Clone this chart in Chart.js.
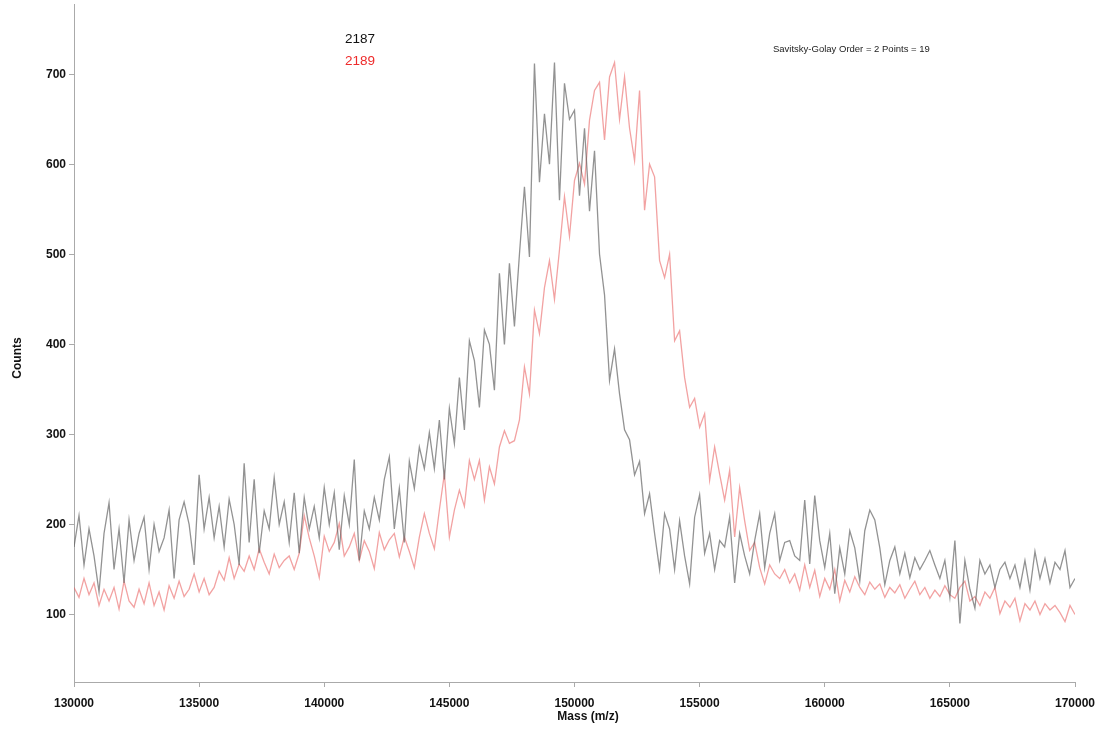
<!DOCTYPE html>
<html>
<head>
<meta charset="utf-8">
<script src="https://cdn.jsdelivr.net/npm/chart.js@4.4.1/dist/chart.umd.min.js"></script>
<style>
  html, body { margin: 0; padding: 0; background: #fff; }
  #wrap { width: 1104px; height: 730px; }
</style>
</head>
<body>
<div id="wrap"><canvas id="spectrum" width="1104" height="730"></canvas></div>
<script>
// mass axis: one reading every 200 m/z from 130000 to 170000
const MASS_START = 130000;
const MASS_STEP = 200;

const massTicks = [130000, 135000, 140000, 145000, 150000, 155000, 160000, 165000, 170000];
const countTicks = [100, 200, 300, 400, 500, 600, 700];

// smoothed counts, sample 2187
const counts2187 = [
  175, 210, 155, 195, 165, 125, 190, 224, 150, 195,
  135, 205, 160, 190, 208, 150, 200, 170, 185, 216,
  140, 205, 225, 200, 155, 255, 195, 230, 185, 220,
  175, 228, 200, 155, 268, 180, 250, 168, 215, 195,
  252, 200, 225, 180, 235, 168, 230, 195, 220, 185,
  241, 200, 235, 172, 232, 200, 272, 160, 215, 195,
  230, 205, 250, 275, 195, 240, 180, 270, 240, 286,
  262, 302, 262, 316, 250, 329, 290, 363, 305, 404,
  382, 330, 416, 400, 349, 479, 400, 490, 420, 500,
  575, 497, 712, 580, 656, 600, 713, 560, 690, 650,
  660, 565, 640, 548, 615, 500, 455, 360, 395, 345,
  305, 294, 255, 270, 212, 234, 190, 150, 212, 195,
  150, 204, 165, 134, 208, 233, 168, 190, 150, 182,
  175, 208, 135, 190, 165, 145, 182, 212, 152, 190,
  212, 160, 180, 182, 165, 160, 227, 156, 232, 182,
  152, 190, 123, 174, 145, 193, 174, 137, 193, 216,
  205, 174, 133, 160, 175, 145, 168, 141, 163, 150,
  160, 171, 155, 140, 160, 119, 182, 90, 160, 128,
  107, 160, 145, 155, 130, 150, 158, 140, 155, 130,
  160, 127, 170, 140, 162, 135, 158, 150, 171, 130,
  140
];

// smoothed counts, sample 2189
const counts2189 = [
  130, 119, 140, 122, 135, 110, 128, 115, 130, 106,
  137, 115, 108, 128, 112, 135, 110, 125, 105, 132,
  118, 137, 120, 128, 145, 125, 140, 122, 130, 148,
  138, 163, 140, 156, 148, 165, 150, 173, 158, 145,
  167, 152, 160, 165, 150, 168, 210, 185, 165, 141,
  187, 170, 180, 201, 165, 175, 190, 160, 182, 170,
  151, 191, 172, 183, 190, 164, 186, 170, 152, 186,
  212, 190, 173, 216, 256, 186, 216, 238, 220, 271,
  250, 271, 227, 264, 245, 286, 304, 290, 293, 316,
  375, 345, 438, 412, 463, 493, 450, 505, 564, 520,
  582, 601, 578, 649, 682, 691, 627, 697, 713, 650,
  697, 640, 604, 682, 549, 600, 586, 493, 474, 500,
  404, 415, 363, 330, 340, 308, 323, 249, 286, 256,
  227, 260, 186, 241, 204, 171, 180, 152, 134, 155,
  145, 140, 150, 135, 145, 127, 155, 130, 149, 120,
  140, 128, 150, 115, 138, 125, 142, 130, 122, 136,
  128, 134, 119, 130, 124, 133, 118, 128, 137, 122,
  130, 118, 127, 120, 132, 122, 118, 130, 137, 115,
  120, 110, 125, 118, 130, 101, 115, 108, 118, 93,
  112, 105, 115, 100, 112, 105, 110, 102, 92, 110,
  100
];

const toPoints = arr => arr.map((v, i) => ({ x: MASS_START + i * MASS_STEP, y: v }));

const FONT = "'Liberation Sans', Arial, Helvetica, sans-serif";

// axis titles, sample names in their line colour, and the smoothing note
const notes = {
  id: 'notes',
  afterDraw(chart) {
    const ctx = chart.ctx;
    ctx.save();
    ctx.textBaseline = 'middle';
    ctx.textAlign = 'center';
    ctx.fillStyle = '#111';
    ctx.font = 'bold 12px ' + FONT;
    ctx.fillText('Mass (m/z)', 588, 717);
    ctx.save();
    ctx.translate(18, 358);
    ctx.rotate(-Math.PI / 2);
    ctx.fillText('Counts', 0, 0);
    ctx.restore();

    ctx.textAlign = 'left';
    ctx.font = '13.5px ' + FONT;
    ctx.fillStyle = '#111';
    ctx.fillText(chart.data.datasets[0].label, 345, 39);
    ctx.fillStyle = '#ee2b2b';
    ctx.fillText(chart.data.datasets[1].label, 345, 61);
    ctx.font = '9.5px ' + FONT;
    ctx.fillStyle = '#222';
    ctx.fillText('Savitsky-Golay Order = 2 Points = 19', 773, 49);
    ctx.restore();
  }
};

new Chart(document.getElementById('spectrum'), {
  type: 'line',
  data: {
    datasets: [
      {
        label: '2187',
        data: toPoints(counts2187),
        borderColor: 'rgba(95,95,95,0.68)',
        borderWidth: 1.3,
        pointRadius: 0,
        tension: 0,
        fill: false
      },
      {
        label: '2189',
        data: toPoints(counts2189),
        borderColor: 'rgba(232,95,95,0.58)',
        borderWidth: 1.3,
        pointRadius: 0,
        tension: 0,
        fill: false
      }
    ]
  },
  options: {
    responsive: false,
    animation: false,
    layout: { padding: { top: 4, right: 29, left: 0, bottom: 0 } },
    plugins: {
      legend: { display: false },
      tooltip: { enabled: false }
    },
    scales: {
      x: {
        type: 'linear',
        min: 130000,
        max: 170000,
        afterBuildTicks: s => { s.ticks = massTicks.map(v => ({ value: v })); },
        afterFit: s => { s.height = 48; s.paddingLeft = 0; s.paddingRight = 0; },
        grid: { drawOnChartArea: false, drawTicks: true, tickLength: 5, color: '#aaa' },
        border: { display: true, color: '#aaa', width: 1 },
        ticks: {
          color: '#111',
          font: { family: FONT, size: 12, weight: 'bold' },
          padding: 9,
          maxRotation: 0,
          callback: v => String(v)
        }
      },
      y: {
        type: 'linear',
        min: 25,
        max: 778,
        afterBuildTicks: s => { s.ticks = countTicks.map(v => ({ value: v })); },
        afterFit: s => { s.width = 74; s.paddingTop = 0; s.paddingBottom = 0; },
        grid: { drawOnChartArea: false, drawTicks: true, tickLength: 5, color: '#aaa' },
        border: { display: true, color: '#aaa', width: 1 },
        ticks: {
          color: '#111',
          font: { family: FONT, size: 12, weight: 'bold' },
          padding: 3,
          callback: v => String(v)
        }
      }
    }
  },
  plugins: [notes]
});
</script>
</body>
</html>
